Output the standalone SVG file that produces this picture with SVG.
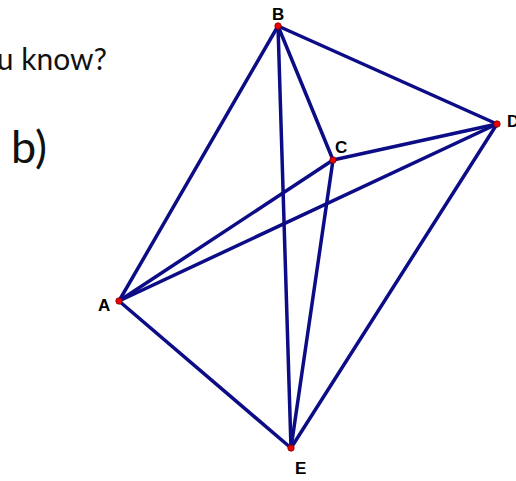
<svg xmlns="http://www.w3.org/2000/svg" width="516" height="481" viewBox="0 0 516 481">
<style>
.edge{stroke:#0c0c86;stroke-width:3.5;stroke-linecap:round;fill:none}
.pt{fill:#ee0000;stroke:#7a0000;stroke-width:0.8}
.lbl{font-family:"Liberation Sans",Arial,sans-serif;font-weight:bold;font-size:17px;fill:#000}
.txt{font-family:Lato,"Open Sans",sans-serif;fill:#111}
</style>
<rect width="516" height="481" fill="#fff"/>
<text class="txt" x="107" y="70" font-size="30" text-anchor="end">u know?</text>
<text class="txt" x="11" y="163" font-size="45">b)</text>
<g id="connectors">
<line class="edge" x1="119" y1="301" x2="278" y2="26"/>
<line class="edge" x1="278" y1="26" x2="497" y2="124"/>
<line class="edge" x1="278" y1="26" x2="333" y2="160"/>
<line class="edge" x1="278" y1="26" x2="291" y2="448"/>
<line class="edge" x1="119" y1="301" x2="333" y2="160"/>
<line class="edge" x1="119" y1="301" x2="497" y2="124"/>
<line class="edge" x1="333" y1="160" x2="497" y2="124"/>
<line class="edge" x1="333" y1="160" x2="291" y2="448"/>
<line class="edge" x1="119" y1="301" x2="291" y2="448"/>
<line class="edge" x1="497" y1="124" x2="291" y2="448"/>
</g>
<g id="A"><circle class="pt" cx="119" cy="301" r="3.2"/><text class="lbl" x="98" y="311">A</text></g>
<g id="B"><circle class="pt" cx="278" cy="26" r="3.2"/><text class="lbl" x="272" y="20">B</text></g>
<g id="C"><circle class="pt" cx="333" cy="160" r="3.2"/><text class="lbl" x="335" y="153">C</text></g>
<g id="D"><circle class="pt" cx="497" cy="124" r="3.2"/><text class="lbl" x="507" y="127">D</text></g>
<g id="E"><circle class="pt" cx="291" cy="448" r="3.2"/><text class="lbl" x="295" y="474">E</text></g>
</svg>
